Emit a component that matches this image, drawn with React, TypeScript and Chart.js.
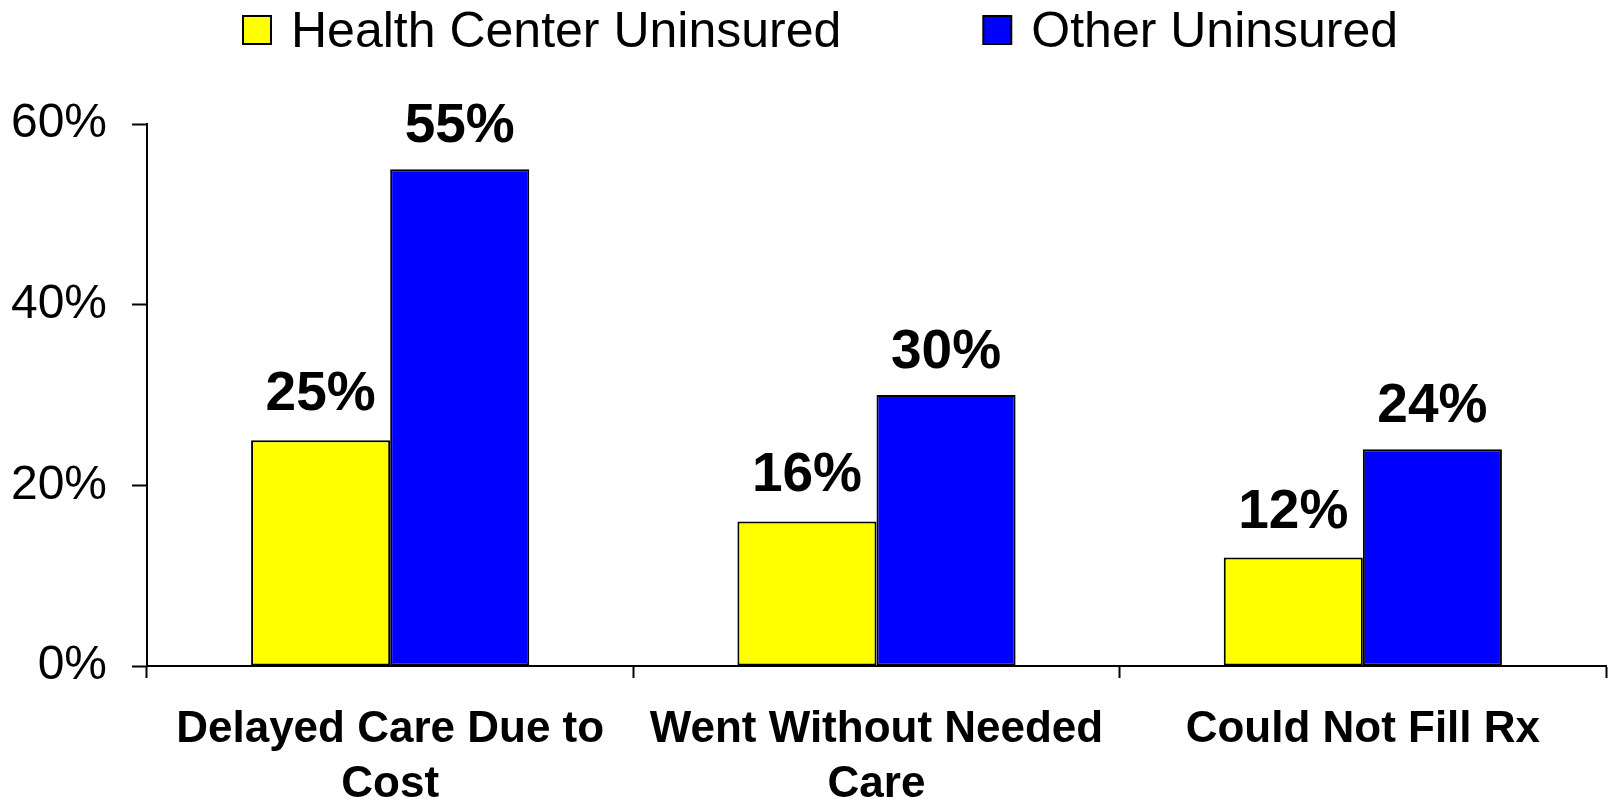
import React, { useEffect, useRef } from "react";
import { Chart, registerables } from "chart.js";

Chart.register(...registerables);

const categories: string[][] = [
  ["Delayed Care Due to", "Cost"],
  ["Went Without Needed", "Care"],
  ["Could Not Fill Rx"],
];
const seriesNames: string[] = ["Health Center Uninsured", "Other Uninsured"];
const healthCenterUninsured: number[] = [25, 16, 12];
const otherUninsured: number[] = [55, 30, 24];
const seriesColors: string[] = ["#FFFF00", "#0000FF"];
const yTicks: number[] = [0, 20, 40, 60];

const FONT = "'Liberation Sans', Arial, Helvetica, sans-serif";

const valueLabelPlugin = {
  id: "valueLabels",
  afterDatasetsDraw(chart: any) {
    const ctx = chart.ctx;
    ctx.save();
    ctx.font = `bold 55px ${FONT}`;
    ctx.fillStyle = "#000";
    ctx.textAlign = "center";
    ctx.textBaseline = "alphabetic";
    chart.data.datasets.forEach((ds: any, di: number) => {
      const meta = chart.getDatasetMeta(di);
      const gap = di === 0 ? 30 : 27;
      meta.data.forEach((bar: any, i: number) => {
        ctx.fillText(`${ds.data[i]}%`, bar.x, bar.y - gap);
      });
    });
    ctx.restore();
  },
};

const legendPlugin = {
  id: "customLegend",
  afterDraw(chart: any) {
    const ctx = chart.ctx;
    ctx.save();
    ctx.font = `50px ${FONT}`;
    ctx.textBaseline = "alphabetic";
    ctx.textAlign = "left";
    let x = 243;
    const boxSize = 28;
    const boxTop = 16;
    const baseline = 47;
    chart.data.datasets.forEach((ds: any) => {
      ctx.fillStyle = ds.backgroundColor;
      ctx.fillRect(x, boxTop, boxSize, boxSize);
      ctx.lineWidth = 2;
      ctx.strokeStyle = "#000";
      ctx.strokeRect(x, boxTop, boxSize, boxSize);
      const tx = x + boxSize + 20;
      ctx.fillStyle = "#000";
      ctx.fillText(ds.label, tx, baseline);
      const w = ctx.measureText(ds.label).width;
      x = tx + w + 142;
    });
    ctx.restore();
  },
};

export default function App() {
  const canvasRef = useRef<HTMLCanvasElement | null>(null);

  useEffect(() => {
    document.body.style.margin = "0";
    const canvas = canvasRef.current;
    if (!canvas) return;
    const chart = new Chart(canvas, {
      type: "bar",
      data: {
        labels: categories,
        datasets: [
          {
            label: seriesNames[0],
            data: healthCenterUninsured,
            backgroundColor: seriesColors[0],
            borderColor: "#000",
            borderWidth: 2,
            borderSkipped: false,
          },
          {
            label: seriesNames[1],
            data: otherUninsured,
            backgroundColor: seriesColors[1],
            borderColor: "#000",
            borderWidth: 2,
            borderSkipped: false,
          },
        ],
      },
      options: {
        responsive: false,
        animation: false,
        devicePixelRatio: 1,
        layout: { padding: { top: 124, right: 6, left: 0, bottom: 0 } },
        datasets: {
          bar: { barPercentage: 1, categoryPercentage: 0.572 },
        },
        plugins: {
          legend: { display: false },
          tooltip: { enabled: false },
        },
        scales: {
          x: {
            grid: {
              display: true,
              offset: true,
              drawOnChartArea: false,
              drawTicks: true,
              tickLength: 12,
              tickWidth: 2,
              color: "#000",
            },
            border: { display: true, color: "#000", width: 2 },
            ticks: {
              color: "#000",
              font: { family: FONT, size: 44, weight: "bold", lineHeight: 1.25 },
              padding: 24,
              maxRotation: 0,
              autoSkip: false,
            },
            afterFit(scale: any) {
              scale.height = 138;
            },
          },
          y: {
            min: 0,
            max: 60,
            afterBuildTicks(scale: any) {
              scale.ticks = yTicks.map((v) => ({ value: v }));
            },
            grid: {
              display: true,
              drawOnChartArea: false,
              drawTicks: true,
              tickLength: 15,
              tickWidth: 2,
              color: "#000",
            },
            border: { display: true, color: "#000", width: 2 },
            ticks: {
              color: "#000",
              font: { family: FONT, size: 48 },
              padding: 25,
              callback: (v: any) => `${v}%`,
            },
            afterFit(scale: any) {
              scale.width = 147;
            },
          },
        },
      },
      plugins: [valueLabelPlugin, legendPlugin],
    });
    return () => chart.destroy();
  }, []);

  return (
    <div style={{ width: 1612, height: 804, background: "#fff" }}>
      <canvas ref={canvasRef} width={1612} height={804} style={{ display: "block" }} />
    </div>
  );
}
